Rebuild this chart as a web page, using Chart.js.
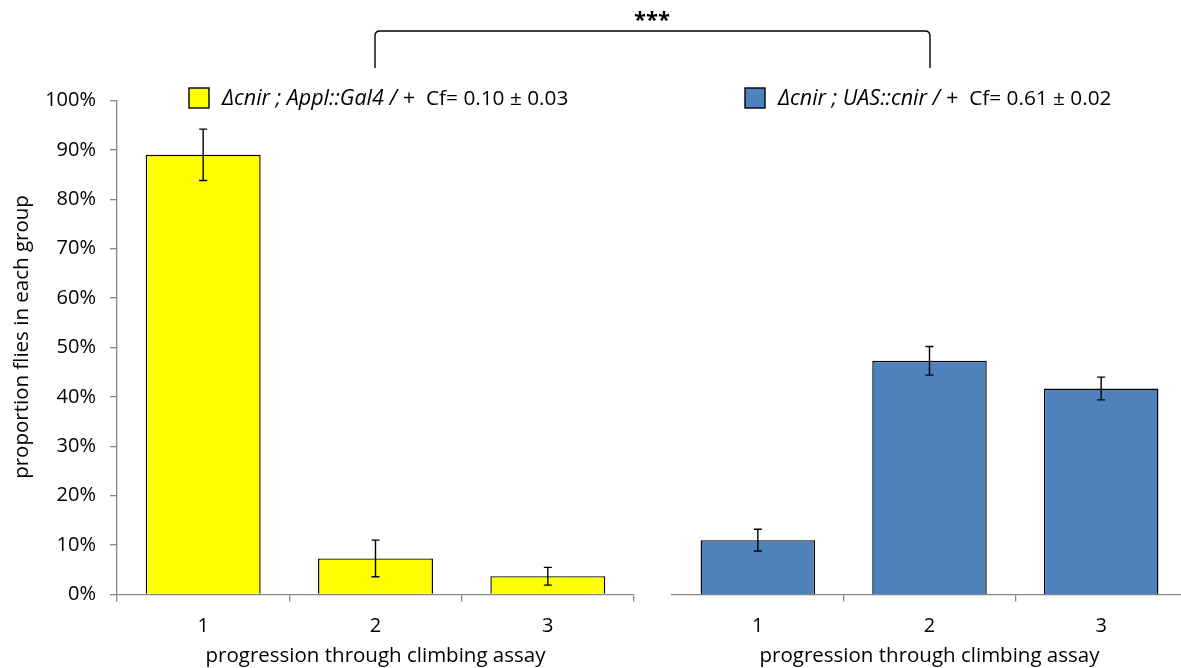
<!DOCTYPE html>
<html><head><meta charset="utf-8">
<script src="https://cdn.jsdelivr.net/npm/chart.js@4"></script>
<style>
html,body{margin:0;padding:0;background:#fff;overflow:hidden;width:1181px;height:668px;position:relative}
canvas{position:absolute;left:0;top:0}
</style></head>
<body>
<canvas id="c1" width="1181" height="668"></canvas>
<canvas id="c2" width="1200" height="668"></canvas>
<script>
const categories = ['1', '2', '3'];
const yTickLabels = ['0%', '10%', '20%', '30%', '40%', '50%', '60%', '70%', '80%', '90%', '100%'];
const controlValues = [89.0, 7.3, 3.7];
const controlErrors = [5.2, 3.7, 1.8];
const rescueValues = [11.0, 47.3, 41.7];
const rescueErrors = [2.2, 2.9, 2.3];
const controlGenotype = 'Δcnir ; Appl::Gal4 / +';
const controlCf = 'Cf= 0.10 ± 0.03';
const rescueGenotype = 'Δcnir ; UAS::cnir / +';
const rescueCf = 'Cf= 0.61 ± 0.02';
const xTitle = 'progression through climbing assay';
const yTitle = 'proportion flies in each group';
const significance = '***';

const FAM = "'Open Sans', sans-serif";
const FS = 20;
const AXIS_GRAY = '#868686';

Chart.defaults.font.family = FAM;
Chart.defaults.font.size = FS;
Chart.defaults.color = '#000';

const errorBars = {
  id: 'errorBars',
  afterDatasetsDraw(chart) {
    const ctx = chart.ctx;
    const ys = chart.scales.y;
    chart.data.datasets.forEach((ds, di) => {
      const meta = chart.getDatasetMeta(di);
      meta.data.forEach((bar, i) => {
        const v = ds.data[i], e = ds.errors[i];
        const yt = ys.getPixelForValue(v + e), yb = ys.getPixelForValue(v - e);
        ctx.save();
        ctx.strokeStyle = '#000';
        ctx.lineWidth = 1.4;
        ctx.beginPath();
        ctx.moveTo(bar.x, yt); ctx.lineTo(bar.x, yb);
        ctx.moveTo(bar.x - 4, yt); ctx.lineTo(bar.x + 4, yt);
        ctx.moveTo(bar.x - 4, yb); ctx.lineTo(bar.x + 4, yb);
        ctx.stroke();
        ctx.restore();
      });
    });
  }
};

function legendPlugin(boxX, color, genotype, cf) {
  return {
    id: 'customLegend',
    afterDraw(chart) {
      const ctx = chart.ctx;
      ctx.save();
      ctx.fillStyle = color;
      ctx.strokeStyle = '#000';
      ctx.lineWidth = 1.4;
      ctx.fillRect(boxX, 88, 20, 20);
      ctx.strokeRect(boxX, 88, 20, 20);
      ctx.fillStyle = '#000';
      ctx.textBaseline = 'middle';
      ctx.textAlign = 'left';
      let x = boxX + 33;
      ctx.font = 'italic 21.5px ' + FAM;
      ctx.fillText(genotype, x, 99);
      x += ctx.measureText(genotype + '  ').width;
      ctx.font = '20.8px ' + FAM;
      ctx.fillText(cf, x, 99);
      ctx.restore();
    }
  };
}

const annotations = {
  id: 'annotations',
  afterDraw(chart) {
    const ctx = chart.ctx;
    ctx.save();
    ctx.fillStyle = '#000';
    ctx.font = '20.5px ' + FAM;
    ctx.textAlign = 'center';
    ctx.textBaseline = 'middle';
    ctx.translate(22, 337);
    ctx.rotate(-Math.PI / 2);
    ctx.fillText(yTitle, 0, 0);
    ctx.restore();
    ctx.save();
    ctx.strokeStyle = '#000';
    ctx.lineWidth = 1.4;
    const L = 375, R = 930, T = 31, B = 68, r = 5;
    ctx.beginPath();
    ctx.moveTo(L, B);
    ctx.lineTo(L, T + r);
    ctx.quadraticCurveTo(L, T, L + r, T);
    ctx.lineTo(R - r, T);
    ctx.quadraticCurveTo(R, T, R, T + r);
    ctx.lineTo(R, B);
    ctx.stroke();
    ctx.fillStyle = '#000';
    ctx.font = 'bold 22px ' + FAM;
    ctx.textAlign = 'center';
    ctx.textBaseline = 'middle';
    ctx.fillText(significance, 652, 21);
    ctx.restore();
  }
};

function makeOptions(showY, padding, hideFirstTick) {
  return {
    responsive: false,
    animation: false,
    layout: { padding: padding },
    plugins: { legend: { display: false }, tooltip: { enabled: false } },
    scales: {
      x: {
        offset: true,
        border: { display: true, color: AXIS_GRAY, width: 1.3 },
        grid: {
          offset: true,
          drawOnChartArea: false,
          drawTicks: true,
          tickLength: 7,
          color: (c) => (hideFirstTick && c.index === 0) ? 'rgba(0,0,0,0)' : AXIS_GRAY,
          lineWidth: 1.3
        },
        ticks: { padding: 13, font: { size: FS } },
        title: { display: true, text: xTitle, padding: { top: 0, bottom: 0 }, font: { size: 20.5 } },
        afterFit(s) { s.height = 668 - 594.5 - padding.bottom; }
      },
      y: {
        display: showY,
        min: 0, max: 100,
        border: { display: true, color: AXIS_GRAY, width: 1.3 },
        grid: { drawOnChartArea: false, drawTicks: true, tickLength: 7, color: AXIS_GRAY, lineWidth: 1.3 },
        ticks: {
          stepSize: 10, padding: 14,
          callback: (v, i) => yTickLabels[i]
        },
        afterFit(s) { if (showY) s.width = 117; }
      }
    }
  };
}

new Chart(document.getElementById('c1'), {
  type: 'bar',
  data: {
    labels: categories,
    datasets: [{
      data: controlValues, errors: controlErrors,
      backgroundColor: '#FFFF00', borderColor: '#000', borderWidth: 1.4,
      categoryPercentage: 1, barPercentage: 0.667
    }]
  },
  options: makeOptions(true, { top: 100.5, left: 0, right: 1181 - 634, bottom: 0 }, false),
  plugins: [errorBars, legendPlugin(189, '#FFFF00', controlGenotype, controlCf), annotations]
});

new Chart(document.getElementById('c2'), {
  type: 'bar',
  data: {
    labels: categories,
    datasets: [{
      data: rescueValues, errors: rescueErrors,
      backgroundColor: '#4F81BD', borderColor: '#000', borderWidth: 1.4,
      categoryPercentage: 1, barPercentage: 0.667
    }]
  },
  options: makeOptions(false, { top: 100.5, left: 672, right: 1200 - 1187, bottom: 0 }, true),
  plugins: [errorBars, legendPlugin(745, '#4F81BD', rescueGenotype, rescueCf)]
});
</script>
</body></html>
